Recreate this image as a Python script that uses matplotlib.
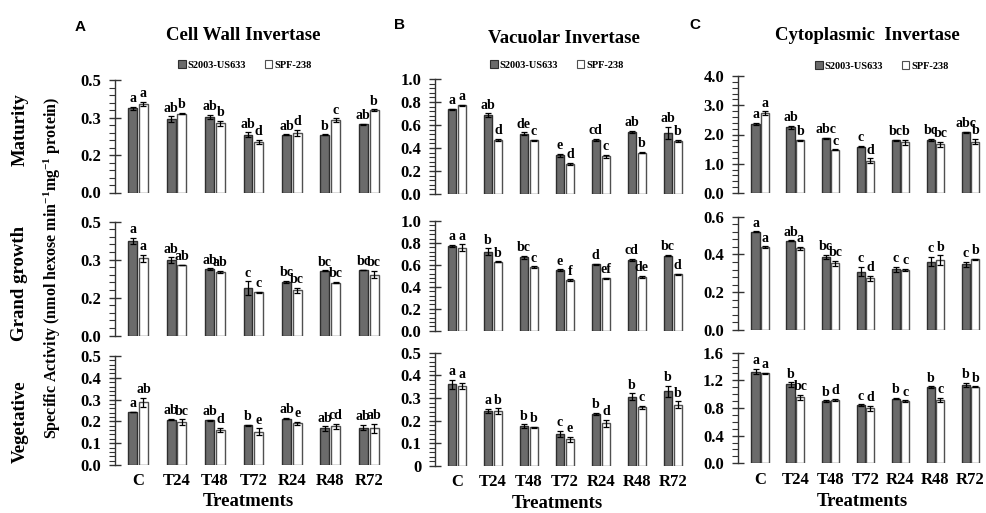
import numpy as np
import matplotlib
matplotlib.use('Agg')
import matplotlib.pyplot as plt
from matplotlib.ticker import AutoMinorLocator, FixedLocator, FuncFormatter
from matplotlib.patches import Patch

plt.rcParams['font.family'] = 'Liberation Serif'
plt.rcParams['font.weight'] = 'bold'
plt.rcParams['mathtext.fontset'] = 'custom'
plt.rcParams['mathtext.rm'] = 'Liberation Serif:bold'
plt.rcParams['mathtext.bf'] = 'Liberation Serif:bold'
plt.rcParams['mathtext.it'] = 'Liberation Serif:bold'

treatments = ['C', 'T24', 'T48', 'T72', 'R24', 'R48', 'R72']
series_names = ['S2003-US633', 'SPF-238']

# A - cell wall invertase
cw_mat_s = [0.374, 0.326, 0.336, 0.257, 0.257, 0.257, 0.304]
cw_mat_s_err = [0.008, 0.012, 0.008, 0.010, 0.002, 0.002, 0.002]
cw_mat_p = [0.393, 0.351, 0.307, 0.225, 0.265, 0.322, 0.367]
cw_mat_p_err = [0.010, 0.004, 0.010, 0.010, 0.012, 0.008, 0.003]
cw_mat_s_lab = ['a', 'ab', 'ab', 'ab', 'ab', 'b', 'ab']
cw_mat_p_lab = ['a', 'b', 'b', 'd', 'd', 'c', 'b']

cw_gg_s = [0.415, 0.332, 0.292, 0.208, 0.236, 0.285, 0.288]
cw_gg_s_err = [0.015, 0.012, 0.004, 0.030, 0.003, 0.002, 0.002]
cw_gg_p = [0.339, 0.310, 0.278, 0.190, 0.199, 0.233, 0.268]
cw_gg_p_err = [0.015, 0.002, 0.005, 0.002, 0.012, 0.004, 0.015]
cw_gg_s_lab = ['a', 'ab', 'ab', 'c', 'bc', 'bc', 'bc']
cw_gg_p_lab = ['a', 'ab', 'ab', 'c', 'bc', 'bc', 'bc']

cw_veg_s = [0.243, 0.208, 0.206, 0.182, 0.213, 0.168, 0.172]
cw_veg_s_err = [0.002, 0.003, 0.002, 0.003, 0.004, 0.010, 0.012]
cw_veg_p = [0.287, 0.197, 0.160, 0.153, 0.191, 0.177, 0.168]
cw_veg_p_err = [0.022, 0.012, 0.010, 0.016, 0.006, 0.012, 0.020]
cw_veg_s_lab = ['a', 'ab', 'ab', 'b', 'ab', 'ab', 'ab']
cw_veg_p_lab = ['ab', 'bc', 'd', 'e', 'e', 'cd', 'ab']

# B - vacuolar invertase
va_mat_s = [0.735, 0.686, 0.526, 0.337, 0.468, 0.540, 0.531]
va_mat_s_err = [0.005, 0.015, 0.010, 0.012, 0.010, 0.012, 0.050]
va_mat_p = [0.773, 0.473, 0.468, 0.258, 0.328, 0.360, 0.460]
va_mat_p_err = [0.005, 0.008, 0.003, 0.010, 0.012, 0.006, 0.008]
va_mat_s_lab = ['a', 'ab', 'de', 'e', 'cd', 'ab', 'ab']
va_mat_p_lab = ['a', 'd', 'c', 'd', 'c', 'b', 'b']

va_gg_s = [0.772, 0.720, 0.670, 0.550, 0.605, 0.645, 0.685]
va_gg_s_err = [0.012, 0.030, 0.012, 0.010, 0.005, 0.008, 0.006]
va_gg_p = [0.757, 0.630, 0.580, 0.460, 0.477, 0.490, 0.515]
va_gg_p_err = [0.030, 0.004, 0.008, 0.008, 0.003, 0.008, 0.005]
va_gg_s_lab = ['a', 'b', 'bc', 'e', 'd', 'cd', 'bc']
va_gg_p_lab = ['a', 'b', 'c', 'f', 'ef', 'de', 'd']

va_veg_s = [0.360, 0.243, 0.176, 0.141, 0.229, 0.306, 0.330]
va_veg_s_err = [0.020, 0.010, 0.008, 0.015, 0.006, 0.015, 0.025]
va_veg_p = [0.353, 0.243, 0.170, 0.118, 0.188, 0.259, 0.270]
va_veg_p_err = [0.015, 0.012, 0.002, 0.010, 0.015, 0.006, 0.015]
va_veg_s_lab = ['a', 'a', 'b', 'c', 'b', 'b', 'b']
va_veg_p_lab = ['a', 'b', 'b', 'e', 'd', 'c', 'b']

# C - cytoplasmic invertase
cy_mat_s = [2.35, 2.24, 1.875, 1.58, 1.80, 1.82, 2.08]
cy_mat_s_err = [0.04, 0.05, 0.02, 0.02, 0.01, 0.04, 0.02]
cy_mat_p = [2.73, 1.80, 1.48, 1.11, 1.73, 1.66, 1.76]
cy_mat_p_err = [0.06, 0.02, 0.01, 0.07, 0.08, 0.09, 0.08]
cy_mat_s_lab = ['a', 'ab', 'abc', 'c', 'bc', 'bc', 'abc']
cy_mat_p_lab = ['a', 'b', 'c', 'd', 'b', 'bc', 'b']

cy_gg_s = [0.520, 0.473, 0.388, 0.309, 0.321, 0.362, 0.348]
cy_gg_s_err = [0.003, 0.002, 0.010, 0.025, 0.012, 0.025, 0.012]
cy_gg_p = [0.438, 0.432, 0.353, 0.274, 0.318, 0.371, 0.374]
cy_gg_p_err = [0.005, 0.010, 0.015, 0.012, 0.006, 0.025, 0.004]
cy_gg_s_lab = ['a', 'ab', 'bc', 'c', 'c', 'c', 'c']
cy_gg_p_lab = ['a', 'a', 'bc', 'd', 'c', 'b', 'b']

cy_veg_s = [1.325, 1.14, 0.90, 0.843, 0.935, 1.10, 1.13]
cy_veg_s_err = [0.04, 0.03, 0.01, 0.01, 0.01, 0.015, 0.03]
cy_veg_p = [1.30, 0.954, 0.916, 0.795, 0.90, 0.916, 1.11]
cy_veg_p_err = [0.01, 0.04, 0.015, 0.04, 0.01, 0.03, 0.005]
cy_veg_s_lab = ['a', 'b', 'b', 'c', 'b', 'b', 'b']
cy_veg_p_lab = ['a', 'bc', 'd', 'd', 'c', 'c', 'b']

W, H = 987, 513
fig = plt.figure(figsize=(W / 100, H / 100), dpi=100)

dark = '#6b6b6b'
dark_edge = '#2e2e2e'
light_edge = '#505050'
bw = 0.23
off = 0.14


def add_ax(l, r, t, b):
    return fig.add_axes([l / W, 1 - b / H, (r - l) / W, (b - t) / H])


def fmt_one(v, pos):
    return '%.1f' % v


def fmt_zero(v, pos):
    return '0' if v == 0 else '%.1f' % v


def panel(ax, s, se, p, pe, sl, pl, ymax, ticks, nminor, xlim, bottom, fmt=fmt_one):
    x = np.arange(len(treatments))
    ek = dict(elinewidth=0.9, capsize=2.5, capthick=0.9, ecolor='black')
    ax.bar(x - off, s, bw, yerr=se, color=dark, edgecolor=dark_edge, linewidth=1, error_kw=ek)
    ax.bar(x + off, p, bw, yerr=pe, color='white', edgecolor=light_edge, linewidth=1, error_kw=ek)
    for xi, v, e, t in zip(x - off, s, se, sl):
        ax.text(xi, v + e + ymax * 0.015, t, ha='center', va='bottom', fontsize=10, fontweight='bold')
    for xi, v, e, t in zip(x + off, p, pe, pl):
        ax.text(xi, v + e + ymax * 0.015, t, ha='center', va='bottom', fontsize=10, fontweight='bold')
    ax.set_ylim(0, ymax)
    ax.set_xlim(*xlim)
    ax.yaxis.set_major_locator(FixedLocator(ticks))
    ax.yaxis.set_major_formatter(FuncFormatter(fmt))
    ax.yaxis.set_minor_locator(AutoMinorLocator(nminor))
    for sp in ['top', 'right', 'bottom']:
        ax.spines[sp].set_visible(False)
    ax.spines['left'].set_color('#333333')
    ax.spines['left'].set_linewidth(1)
    ax.tick_params(axis='y', which='major', direction='inout', length=8, width=1,
                   labelsize=12, pad=6, color='#333333')
    ax.tick_params(axis='y', which='minor', direction='out', length=4, width=0.8, color='#333333')
    ax.set_xticks(x)
    if bottom:
        ax.set_xticklabels(treatments, fontsize=12, fontweight='bold')
        ax.tick_params(axis='x', length=0, pad=6)
    else:
        ax.set_xticklabels([])
        ax.tick_params(axis='x', length=0)
    for lab in ax.get_yticklabels():
        lab.set_fontweight('bold')
    ax.patch.set_alpha(0)


# panel A
xa = (-0.6, 6.45)
ax = add_ax(115, 386, 80, 192.5)
panel(ax, cw_mat_s, cw_mat_s_err, cw_mat_p, cw_mat_p_err, cw_mat_s_lab, cw_mat_p_lab,
      0.5, np.linspace(0, 0.5, 4), 5, xa, False)
ax = add_ax(115, 386, 221.7, 335.7)
panel(ax, cw_gg_s, cw_gg_s_err, cw_gg_p, cw_gg_p_err, cw_gg_s_lab, cw_gg_p_lab,
      0.5, np.linspace(0, 0.5, 4), 5, xa, False)
ax = add_ax(115, 386, 356, 465)
panel(ax, cw_veg_s, cw_veg_s_err, cw_veg_p, cw_veg_p_err, cw_veg_s_lab, cw_veg_p_lab,
      0.5, np.linspace(0, 0.5, 6), 5, xa, True)

# panel B
ax = add_ax(435.4, 689, 79, 194)
panel(ax, va_mat_s, va_mat_s_err, va_mat_p, va_mat_p_err, va_mat_s_lab, va_mat_p_lab,
      1.0, np.linspace(0, 1.0, 6), 5, xa, False)
ax = add_ax(435.4, 689, 221, 330.7)
panel(ax, va_gg_s, va_gg_s_err, va_gg_p, va_gg_p_err, va_gg_s_lab, va_gg_p_lab,
      1.0, np.linspace(0, 1.0, 6), 5, xa, False)
ax = add_ax(435.4, 689, 352.7, 466)
panel(ax, va_veg_s, va_veg_s_err, va_veg_p, va_veg_p_err, va_veg_s_lab, va_veg_p_lab,
      0.5, np.linspace(0, 0.5, 6), 5, xa, True, fmt=fmt_zero)

# panel C
xc = (-0.64, 6.4)
ax = add_ax(738, 984.5, 76, 193)
panel(ax, cy_mat_s, cy_mat_s_err, cy_mat_p, cy_mat_p_err, cy_mat_s_lab, cy_mat_p_lab,
      4.0, np.linspace(0, 4.0, 5), 5, xc, False)
ax = add_ax(738, 984.5, 216.7, 330)
panel(ax, cy_gg_s, cy_gg_s_err, cy_gg_p, cy_gg_p_err, cy_gg_s_lab, cy_gg_p_lab,
      0.6, np.linspace(0, 0.6, 4), 5, xc, False)
ax = add_ax(738, 984.5, 352.7, 463.3)
panel(ax, cy_veg_s, cy_veg_s_err, cy_veg_p, cy_veg_p_err, cy_veg_s_lab, cy_veg_p_lab,
      1.6, np.linspace(0, 1.6, 5), 4, xc, True)


def ftext(x, y, s, **kw):
    fig.text(x / W, 1 - y / H, s, ha='center', va='center', **kw)


# panel letters and titles
ftext(80, 27, 'A', family='Liberation Sans', fontsize=11, fontweight='bold')
ftext(400, 25, 'B', family='Liberation Sans', fontsize=11, fontweight='bold')
ftext(695, 25, 'C', family='Liberation Sans', fontsize=11, fontweight='bold')
ftext(243, 36, 'Cell Wall Invertase', fontsize=13.5, fontweight='bold')
ftext(564, 39, 'Vacuolar Invertase', fontsize=13.5, fontweight='bold')
ftext(867, 36, 'Cytoplasmic  Invertase', fontsize=13.5, fontweight='bold')

# row labels and y label
ftext(20, 130, 'Maturity', fontsize=13.5, fontweight='bold', rotation=90)
ftext(20, 283, 'Grand growth', fontsize=13.5, fontweight='bold', rotation=90)
ftext(20, 422, 'Vegetative', fontsize=13.5, fontweight='bold', rotation=90)
ftext(52, 268, r'Specific Activity (nmol hexose min$^{-1}$mg$^{-1}$ protein)',
      fontsize=11.5, fontweight='bold', rotation=90)

# x labels
ftext(248, 502, 'Treatments', fontsize=13.5, fontweight='bold')
ftext(557, 504, 'Treatments', fontsize=13.5, fontweight='bold')
ftext(862, 502, 'Treatments', fontsize=13.5, fontweight='bold')

# legends
handles = [Patch(facecolor=dark, edgecolor=dark_edge, linewidth=0.8),
           Patch(facecolor='white', edgecolor=light_edge, linewidth=0.8)]
for lx, ly in [(245, 65), (557, 65), (882, 66)]:
    fig.legend(handles, series_names, loc='center', bbox_to_anchor=(lx / W, 1 - ly / H),
               ncol=2, frameon=False, handlelength=0.7, handleheight=0.7,
               handletextpad=0.2, columnspacing=1.8, borderpad=0,
               prop=dict(family='Liberation Serif', weight='bold', size=7.5))

fig.savefig('out.png', dpi=100)
